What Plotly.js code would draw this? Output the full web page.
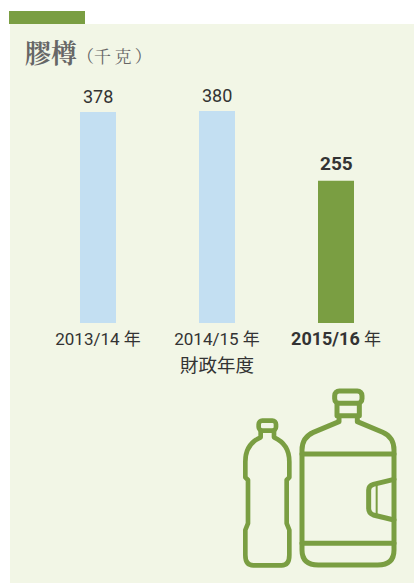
<!DOCTYPE html>
<html>
<head>
<meta charset="utf-8">
<script src="https://cdn.plot.ly/plotly-3.0.1.min.js"></script>
<style>html,body{margin:0;padding:0;background:#fff}#chart{width:414px;height:583px}</style>
</head>
<body>
<div id="chart"></div>
<script>
const categories = ['2013/14 年', '2014/15 年', '2015/16 年'];
const values = [378, 380, 255];
const valueLabels = ['378', '380', '<b><span style="font-size:19px">255</span></b>'];
const labelShifts = [3, 3, 4];
const tickLabels = ['2013/14 年', '2014/15 年', '<b><span style="font-size:18px">2015/16</span></b> 年'];
const axisNote = '財政年度';
const barColors = ['#c3dff2', '#c3dff2', '#7a9e42'];
const GREEN = '#7a9e42', PANEL = '#f2f6e6', TEXT = '#333333';
const FONT = 'Roboto, "Noto Sans CJK TC", sans-serif';

const W = 414, H = 583, L = 10, T = 24, B = 323;
const px = x => (x - L) / (W - L);
const py = y => (B - y) / (B - T);

const icon = `<svg xmlns="http://www.w3.org/2000/svg" width="552" height="609" viewBox="0 0 552 609"><g fill="none" stroke="${GREEN}" stroke-width="15" stroke-linejoin="round" stroke-linecap="round"><rect x="314" y="33" width="82" height="37" rx="14"/><path d="M321 72V107H388V72M327 107V125L250 157Q216 172 216 210V510Q216 555 265 555H443Q492 555 492 510V210Q492 172 458 157L382 125V107"/><path d="M216 222H492M216 490H492"/><path d="M492 298L430 313Q416 317 416 330V385Q416 400 430 405L492 420"/><path d="M440 310V408" stroke-width="6"/><rect x="86" y="122" width="52" height="30" rx="11" stroke-width="14"/><path stroke-width="14" d="M92 152V172Q46 192 46 245V292L54 300V430L46 450V525Q46 556 70 556H155Q178 556 178 525V450L170 430V300L178 292V245Q178 192 132 172V152"/></g></svg>`;

const trace = {
  type: 'bar',
  x: [0, 1, 2],
  y: values,
  width: 36 / 119,
  marker: { color: barColors, line: { width: 0 } },
  hoverinfo: 'skip'
};

const valueAnnotations = values.map((v, i) => ({
  x: i, y: v, xref: 'x', yref: 'y',
  text: valueLabels[i], showarrow: false,
  xanchor: 'center', yanchor: 'bottom', yshift: labelShifts[i],
  font: { family: FONT, size: 18, color: TEXT }
}));

const layout = {
  width: W, height: H,
  margin: { l: L, r: 0, t: T, b: H - B, pad: 0 },
  paper_bgcolor: '#ffffff',
  plot_bgcolor: 'rgba(0,0,0,0)',
  showlegend: false,
  title: {
    text: '<b>膠樽</b><span style="font-size:17px;color:#666">（千\u2009克\u2009）</span>',
    font: { family: '"Noto Serif CJK TC", "Noto Sans CJK TC", serif', size: 26, color: '#666666' },
    x: 25 / W, xanchor: 'left', xref: 'container',
    y: 1 - 54 / H, yanchor: 'middle', yref: 'container'
  },
  xaxis: {
    range: [-(98 - L) / 119, (W - 98) / 119],
    tickmode: 'array', tickvals: [0, 1, 2], ticktext: tickLabels,
    ticks: '', showgrid: false, zeroline: false, showline: false,
    ticklabelstandoff: 4,
    tickfont: { family: FONT, size: 17, color: TEXT },
    automargin: false, fixedrange: true
  },
  yaxis: {
    range: [0, (B - T) / 0.558],
    visible: false, fixedrange: true
  },
  annotations: valueAnnotations.concat([{
    x: 1, xref: 'x', y: py(366), yref: 'paper',
    text: axisNote, showarrow: false, xanchor: 'center', yanchor: 'middle',
    font: { family: FONT, size: 18.5, color: TEXT }
  }]),
  shapes: [
    { type: 'rect', xref: 'paper', yref: 'paper', layer: 'below', x0: px(10), x1: px(414), y0: py(583), y1: py(24), fillcolor: PANEL, line: { width: 0 } },
    { type: 'rect', xref: 'paper', yref: 'paper', layer: 'below', x0: px(9), x1: px(85), y0: py(24), y1: py(11), fillcolor: GREEN, line: { width: 0 } }
  ],
  images: [{
    source: 'data:image/svg+xml;charset=utf-8,' + encodeURIComponent(icon),
    xref: 'paper', yref: 'paper',
    x: px(230), y: py(380), sizex: 184 / (W - L), sizey: 203 / (B - T),
    xanchor: 'left', yanchor: 'top', sizing: 'stretch', layer: 'above'
  }]
};

Plotly.newPlot('chart', [trace], layout, { displayModeBar: false, staticPlot: true });
</script>
</body>
</html>
